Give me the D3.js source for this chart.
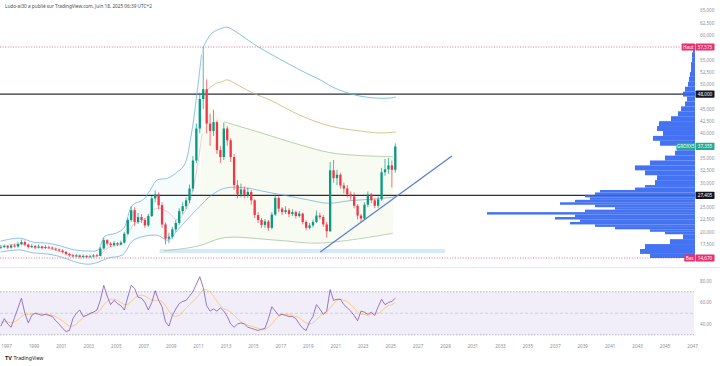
<!DOCTYPE html>
<html>
<head>
<meta charset="utf-8">
<script src="https://cdn.jsdelivr.net/npm/d3@7"></script>
<style>
  body { margin: 0; background: #fff; }
  svg { display: block; font-family: "Noto Sans", Roboto, sans-serif; }
</style>
</head>
<body>
<div id="chart"></div>
<script>
// quarterly candles, first one starts mid 1996
var quarterStart = 1996.5;

var closes = [16900,17100,16800,17200,17000,17500,17900,17400,16900,17100,
  16800,17000,16700,16900,16800,16600,16400,16200,15900,15500,
  15200,15000,15200,14900,15100,14900,15000,15200,15100,16600,
  18300,17600,17300,17700,17400,17800,19600,22400,24400,22000,
  23000,22400,21300,23200,26800,27600,25400,21500,18600,19000,
  20500,21800,24200,25200,26400,28800,34500,41000,47000,49000,
  42000,40500,42300,36600,35200,41000,38600,35200,29500,27600,
  28600,27400,28100,26400,23400,22400,21400,22100,20800,23500,
  26900,24700,24000,24400,23600,24000,23200,23700,22000,20800,
  21300,22000,23300,23000,21500,20100,32500,30900,31600,29400,
  28800,27600,27200,25300,23300,22700,25500,27600,26400,25300,
  26600,32100,32700,33500,32600,37355];
var firstOpen = 16800;

var highs = [17300,17400,17300,17500,17600,17900,18400,18200,17600,17500,
  17300,17400,17200,17300,17200,17000,16800,16600,16400,16100,
  15700,15500,15500,15400,15400,15300,15300,15500,15500,16900,
  18800,18500,17900,18100,17900,18200,20000,22800,25200,25000,
  23800,23600,22800,23600,27300,28400,28000,26000,21900,19800,
  21000,22400,24800,26000,27000,29600,35400,42000,48200,57575,
  51000,44000,44800,42600,37500,42200,41500,39000,35800,30500,
  29800,29200,29000,28500,26600,24000,22800,22600,22400,24000,
  27600,27200,25000,25200,24800,24600,24300,24200,23900,22300,
  21800,22500,24300,23900,23400,22000,34200,34600,32600,32000,
  30000,29500,28200,28000,25600,23600,26000,28200,27900,26800,
  27200,33000,34800,35000,34500,38000];

var lows = [16500,16700,16500,16600,16800,16800,17300,17100,16600,16700,
  16500,16600,16400,16500,16500,16300,16100,15900,15600,15200,
  14900,14800,14800,14700,14700,14670,14700,14800,14900,15000,
  16400,17200,16900,17000,17100,17200,17600,19400,22000,21200,
  21600,21800,20800,21000,23000,26000,24600,20800,17400,17700,
  18600,20000,21400,23600,24600,25800,28200,34000,40000,45000,
  40000,37500,39500,35800,34000,34600,37500,34200,28500,26800,
  27000,26800,26900,25500,22800,21800,20800,20800,20200,20500,
  23200,24000,23400,23600,23000,23200,22700,22900,21500,20300,
  20500,20900,21800,22500,21000,18800,20000,30000,29500,28800,
  27800,27000,26400,24800,22500,21900,22400,25000,25800,24800,
  24900,26300,31400,31800,29000,32000];

var rsi = [38,45,40,37,46,55,64,50,41,48,
  50,49,48,49,48,47,43,40,36,33,
  34,45,50,53,47,48,50,51,53,62,
  76,66,58,62,59,57,53,65,76,73,
  65,64,60,53,60,71,62,56,42,38,
  48,54,59,61,62,66,70,77,84,74,
  57,52,54,52,55,52,47,40,37,40,
  41,40,37,36,35,34,35,36,45,56,
  52,48,49,48,47,47,45,40,36,34,
  42,47,58,54,49,52,72,62,63,63,
  58,55,52,48,43,52,51,49,51,48,
  56,63,58,60,61,64];

var rsiMa = [42,42,42,41,42,44,47,49,49,49,
  50,50,49,49,49,48,47,45,43,40,
  38,38,40,43,46,48,49,50,50,53,
  58,61,63,63,62,60,58,58,61,64,
  66,67,66,64,62,62,62,61,57,52,
  48,47,48,51,55,58,61,64,68,72,
  72,70,66,61,57,54,53,51,48,45,
  42,40,39,38,37,36,35,35,37,40,
  44,47,49,49,49,48,47,46,43,41,
  40,41,44,47,50,51,55,59,62,63,
  62,61,58,55,51,49,49,48,49,50,
  50,52,55,57,58,60];

// overlay lines: [year, price]
var bbUpper = [[1996.6,18100],[1998.0,18700],[1999.0,17900],[2000.0,17700],[2001.0,17100],
  [2002.0,16300],[2003.0,16100],[2003.7,16300],[2004.2,19100],[2005.0,19700],[2005.6,20800],
  [2006.2,25400],[2007.0,26500],[2007.6,28900],[2008.0,30500],[2008.8,30900],[2009.5,32200],
  [2010.0,33600],[2010.5,39700],[2010.9,47800],[2011.25,56000]];
var bbLower = [[1996.6,15900],[1998.0,16300],[1999.0,15700],[2000.0,15500],[2001.0,14900],
  [2002.0,13900],[2003.0,13400],[2003.7,13800],[2004.5,14700],[2005.5,15300],[2006.3,18300],
  [2008.0,19300],[2008.8,18300],[2009.5,20300],[2010.3,22800],[2011.0,24800],[2012.0,27500],
  [2013.0,28900],[2014.5,28900],[2016.0,28100],[2017.5,27300],[2019.0,26500],[2020.5,25800],
  [2022.0,26300],[2024.0,26700],[2025.4,27100]];
var bbBasis = [[1996.6,17000],[1998.0,17500],[1999.0,16900],[2000.0,16700],[2001.0,16000],
  [2002.0,15100],[2003.0,14900],[2003.7,15100],[2004.5,16900],[2005.5,17600],[2006.3,21500],
  [2007.0,22400],[2008.0,24800],[2008.8,24000],[2009.5,22500],[2010.3,25500],[2010.8,31000],
  [2011.3,40000]];
var tealBand = [[2011.36,57400],[2011.65,59000],[2012.01,60400],[2012.38,61000],[2012.74,61400],
  [2013.11,61600],[2013.69,60800],[2014.42,59400],[2015.51,57400],[2016.97,55100],[2018.43,52900],
  [2019.89,50900],[2020.83,49400],[2021.71,48400],[2022.8,47600],[2023.89,47200],[2024.99,47200],
  [2025.42,47400]];
var oliveBand = [[2011.65,48800],[2012.01,49600],[2012.38,50300],[2012.74,50500],[2013.11,50900],
  [2014.06,49600],[2015.0,48200],[2016.24,46800],[2018.43,43700],[2020.61,41500],[2022.8,40500],
  [2024.26,40100],[2025.42,40300]];
var greenUpper = [[2012.9,42400],[2013.1,42200],[2015.5,40200],[2018.4,37700],[2020.6,36100],
  [2022.8,35500],[2025.2,35300]];
var greenLower = [[2008.5,16100],[2011.0,17100],[2012.9,18800],[2016.7,18300],[2019.9,17700],
  [2025.2,19700]];
var trendLine = [[2019.9,15900],[2029.5,35400]];
var supportBox = {from: 2008.2, to: 2029.0, low: 15680, high: 16490};

var levels = [48000, 27405];
var highPrice = 57575, lowPrice = 14670, lastPrice = 37355;
var symbolName = 'GROXX5';

// volume profile rows: lower bound of each row and its volume
var vpRows = [14500,15500,16500,17500,18500,
  19500,20000,20500,21000,21500,22000,22500,23000,23500,24000,
  24500,25000,25500,26000,26500,27000,27500,28000,28500,29000,
  29500,30500,31500,32500,33500,34500,35500,36500,37500,38500,
  39500,40500,41500,42500,43500,44500,45500,46500,47500,48500,
  49500,50500,51500,52500,53500,54500,55500,56500];
var vpVolume = [45,55,50,25,12,
  30,45,80,100,125,115,140,120,208,110,
  80,100,135,120,105,110,100,95,60,50,
  40,38,50,60,45,30,20,18,35,42,
  32,38,36,24,17,14,10,8,12,10,
  7,6,5,4,4,3,3,2];
var vpTop = 57500;

var priceTicks = [65000,62500,60000,55000,52500,50000,45000,42500,40000,
  35000,32500,30000,25000,22500,20000,17500];
var rsiTicks = [80, 60, 40];
var yearTicks = [1997,1999,2001,2003,2005,2007,2009,2011,2013,2015,2017,2019,2021,
  2023,2025,2027,2029,2031,2033,2035,2037,2039,2041,2043,2045,2047];

// layout
var W = 720, H = 366;
var paneRight = 695;
var priceTop = 12, priceBottom = 266;
var rsiTop = 268, rsiBottom = 340;

var x = d3.scaleLinear().domain([1997, 2047]).range([6, 692]);
var y = d3.scaleLinear().domain([14670, 65000]).range([258, 10.5]);
var yRsi = d3.scaleLinear().domain([40, 80]).range([324, 281]);
var vpX = d3.scaleLinear().domain([0, 208]).range([0, 208]);

var svg = d3.select('#chart').append('svg').attr('width', W).attr('height', H);
svg.append('rect').attr('width', W).attr('height', H).attr('fill', '#fff');

var defs = svg.append('defs');
defs.append('clipPath').attr('id', 'price-clip')
  .append('rect').attr('x', 0).attr('y', priceTop).attr('width', paneRight).attr('height', priceBottom - priceTop);
defs.append('clipPath').attr('id', 'rsi-clip')
  .append('rect').attr('x', 0).attr('y', rsiTop).attr('width', paneRight).attr('height', rsiBottom - rsiTop);

// header
svg.append('text').attr('x', 5).attr('y', 7.5)
  .attr('font-size', 4.7).attr('fill', '#4a4a4a')
  .text('Ludo-ai30 a publié sur TradingView.com, Juin 18, 2025 06:39 UTC+2');

var pane = svg.append('g').attr('clip-path', 'url(#price-clip)');

var line = d3.line()
  .x(d => x(d[0]))
  .y(d => y(d[1]))
  .curve(d3.curveCatmullRom.alpha(0.5));
var polygon = d3.line()
  .x(d => x(d[0]))
  .y(d => y(d[1]))
  .curve(d3.curveLinearClosed);

// bollinger fill (early part)
var bbFillBottom = bbLower.filter(d => d[0] <= 2011.25).slice().reverse();
pane.append('path')
  .attr('d', polygon(bbUpper.concat(bbFillBottom)))
  .attr('fill', 'rgba(0,150,136,0.035)');

// green channel fill
var greenFill = [[2011.4, 47000]].concat(greenUpper, greenLower.filter(d => d[0] >= 2011.0).slice().reverse());
pane.append('path')
  .attr('d', polygon(greenFill))
  .attr('fill', 'rgba(139,195,74,0.07)');

// support box
pane.append('rect')
  .attr('x', x(supportBox.from)).attr('y', y(supportBox.high))
  .attr('width', x(supportBox.to) - x(supportBox.from))
  .attr('height', y(supportBox.low) - y(supportBox.high))
  .attr('fill', 'rgba(33,150,243,0.2)');

// high / low dotted lines
[highPrice, lowPrice].forEach(function(v) {
  pane.append('line')
    .attr('x1', 0).attr('x2', 681).attr('y1', y(v)).attr('y2', y(v))
    .attr('stroke', '#e0507a').attr('stroke-width', 0.8).attr('stroke-dasharray', '1,1.6');
});

// horizontal levels
levels.forEach(function(v) {
  pane.append('line')
    .attr('x1', 0).attr('x2', paneRight).attr('y1', y(v)).attr('y2', y(v))
    .attr('stroke', '#2a2e39').attr('stroke-width', 1.2);
});

// indicator lines
function drawLine(data, color, width, opacity) {
  pane.append('path').attr('d', line(data))
    .attr('fill', 'none').attr('stroke', color)
    .attr('stroke-width', width).attr('stroke-opacity', opacity || 1);
}
drawLine(bbUpper, '#6aa6dc', 0.7);
drawLine(bbLower, '#6aa6dc', 0.7);
drawLine(bbBasis, '#e57373', 0.6, 0.6);
drawLine(tealBand, '#5fbac8', 0.8);
drawLine(oliveBand, '#c9b870', 0.8);
drawLine(greenUpper, '#a2c894', 0.8);
drawLine(greenLower, '#a2c894', 0.8);

// volume profile
var vpData = vpRows.map(function(lo, i) {
  var hi = i < vpRows.length - 1 ? vpRows[i + 1] : vpTop;
  return {lo: Math.max(lo, lowPrice), hi: Math.min(hi, highPrice), volume: vpVolume[i]};
});
pane.append('g').selectAll('rect')
  .data(vpData)
  .join('rect')
  .attr('x', d => paneRight - vpX(d.volume))
  .attr('y', d => y(d.hi))
  .attr('width', d => vpX(d.volume))
  .attr('height', d => y(d.lo) - y(d.hi))
  .attr('fill', '#2f63f2').attr('fill-opacity', 0.9);

// trend line
pane.append('line')
  .attr('x1', x(trendLine[0][0])).attr('y1', y(trendLine[0][1]))
  .attr('x2', x(trendLine[1][0])).attr('y2', y(trendLine[1][1]))
  .attr('stroke', '#5a7fd8').attr('stroke-width', 1.3);

// candles
var candles = closes.map(function(c, i) {
  var t = quarterStart + i / 4;
  return {
    t: t + 0.125,
    open: i === 0 ? firstOpen : closes[i - 1],
    close: c,
    high: highs[i],
    low: lows[i]
  };
});
var candleG = pane.append('g');
var candle = candleG.selectAll('g').data(candles).join('g')
  .attr('stroke', d => d.close >= d.open ? '#089981' : '#f23645')
  .attr('fill', d => d.close >= d.open ? '#089981' : '#f23645');
candle.append('line')
  .attr('x1', d => x(d.t)).attr('x2', d => x(d.t))
  .attr('y1', d => y(d.high)).attr('y2', d => y(d.low))
  .attr('stroke-width', 0.7);
candle.append('rect')
  .attr('x', d => x(d.t) - 1.15)
  .attr('width', 2.3)
  .attr('y', d => y(Math.max(d.open, d.close)))
  .attr('height', d => Math.max(0.7, Math.abs(y(d.open) - y(d.close))))
  .attr('stroke', 'none');

// price axis
var axisFont = 4.6;
var priceAxis = svg.append('g').attr('transform', `translate(${paneRight + 3},0)`)
  .call(d3.axisRight(y).tickValues(priceTicks).tickFormat(d3.format(',')).tickSize(0).tickPadding(2));
priceAxis.select('.domain').remove();
priceAxis.selectAll('text').attr('font-size', axisFont).attr('fill', '#8a8e99').attr('font-family', '"Noto Sans", Roboto, sans-serif');

// price tags
function tag(value, fill, label) {
  var cy = y(value);
  svg.append('rect').attr('x', paneRight + 0.5).attr('y', cy - 3.6)
    .attr('width', 19).attr('height', 7.2).attr('rx', 0.8).attr('fill', fill);
  svg.append('text').attr('x', paneRight + 10).attr('y', cy + 1.6)
    .attr('text-anchor', 'middle').attr('font-size', axisFont).attr('fill', '#fff')
    .text(d3.format(',')(value));
  if (label) {
    var w = label.length * 2.6 + 3;
    svg.append('rect').attr('x', paneRight - w).attr('y', cy - 3.6)
      .attr('width', w).attr('height', 7.2).attr('rx', 0.8).attr('fill', fill);
    svg.append('text').attr('x', paneRight - w / 2).attr('y', cy + 1.6)
      .attr('text-anchor', 'middle').attr('font-size', axisFont).attr('fill', '#fff')
      .text(label);
  }
}
tag(highPrice, '#ec2f6c', 'Haut');
tag(levels[0], '#131722');
tag(lastPrice, '#22ab94', symbolName);
tag(levels[1], '#131722');
tag(lowPrice, '#ec2f6c', 'Bas');

// pane separator
svg.append('line').attr('x1', 0).attr('x2', W).attr('y1', 267.5).attr('y2', 267.5)
  .attr('stroke', '#e0e3eb').attr('stroke-width', 0.8);

// RSI pane
var rsiG = svg.append('g').attr('clip-path', 'url(#rsi-clip)');
rsiG.append('rect')
  .attr('x', 0).attr('width', 694)
  .attr('y', yRsi(70)).attr('height', yRsi(30) - yRsi(70))
  .attr('fill', 'rgba(126,87,194,0.1)');
[70, 30].forEach(function(v) {
  rsiG.append('line').attr('x1', 0).attr('x2', 694).attr('y1', yRsi(v)).attr('y2', yRsi(v))
    .attr('stroke', '#9598a1').attr('stroke-width', 0.7).attr('stroke-dasharray', '1.5,1.5');
});
rsiG.append('line').attr('x1', 0).attr('x2', 694).attr('y1', yRsi(50)).attr('y2', yRsi(50))
  .attr('stroke', '#9598a1').attr('stroke-opacity', 0.6).attr('stroke-width', 0.6).attr('stroke-dasharray', '3,2');

var rsiLine = d3.line()
  .x((d, i) => x(quarterStart + i / 4 + 0.125))
  .y(d => yRsi(d))
  .curve(d3.curveLinear);
rsiG.append('path').attr('d', rsiLine(rsiMa))
  .attr('fill', 'none').attr('stroke', '#f5c04e').attr('stroke-width', 0.7);
rsiG.append('path').attr('d', rsiLine(rsi))
  .attr('fill', 'none').attr('stroke', '#7e57c2').attr('stroke-width', 0.8);

var rsiAxis = svg.append('g').attr('transform', `translate(${paneRight + 3},0)`)
  .call(d3.axisRight(yRsi).tickValues(rsiTicks).tickFormat(d3.format('.2f')).tickSize(0).tickPadding(2));
rsiAxis.select('.domain').remove();
rsiAxis.selectAll('text').attr('font-size', axisFont).attr('fill', '#8a8e99').attr('font-family', '"Noto Sans", Roboto, sans-serif');

// time axis
var timeAxis = svg.append('g').attr('transform', `translate(0,${rsiBottom + 3})`)
  .call(d3.axisBottom(x).tickValues(yearTicks).tickFormat(d3.format('d')).tickSize(0).tickPadding(2));
timeAxis.select('.domain').remove();
timeAxis.selectAll('text').attr('font-size', axisFont).attr('fill', '#8a8e99').attr('font-family', '"Noto Sans", Roboto, sans-serif');

// footer logo
svg.append('text').attr('x', 5).attr('y', 360)
  .attr('font-size', 5.6).attr('font-weight', 'bold').attr('fill', '#131722').text('TV');
svg.append('text').attr('x', 13.5).attr('y', 360)
  .attr('font-size', 5.2).attr('fill', '#131722').text('TradingView');
</script>
</body>
</html>
